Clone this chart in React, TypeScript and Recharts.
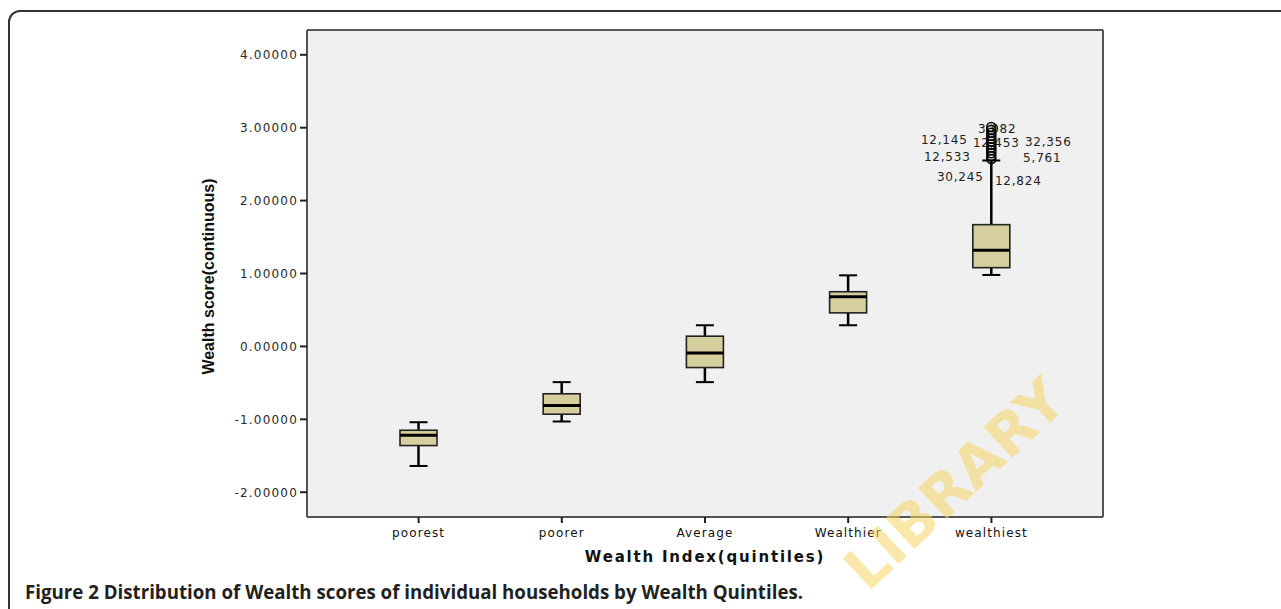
import { ComposedChart, Bar, XAxis, YAxis, CartesianGrid } from 'recharts';

const categories = ['poorest', 'poorer', 'Average', 'Wealthier', 'wealthiest'];
const whiskerLow = [-1.64, -1.03, -0.49, 0.29, 0.98];
const quartile1 = [-1.36, -0.93, -0.29, 0.46, 1.08];
const medians = [-1.22, -0.81, -0.09, 0.68, 1.32];
const quartile3 = [-1.15, -0.65, 0.14, 0.75, 1.67];
const whiskerHigh = [-1.04, -0.49, 0.29, 0.975, 2.55];

// outliers of the wealthiest group
const outlierValues = [3.01, 2.97, 2.93, 2.89, 2.85, 2.81, 2.77, 2.73, 2.69, 2.65, 2.61, 2.57];
const outlierLabels = ['3,082', '12,145', '12,453', '32,356', '12,533', '5,761', '30,245', '12,824'];
const outlierLabelValues = [3.01, 2.85, 2.81, 2.81, 2.61, 2.61, 2.57, 2.57];
// where each case number sits next to its point (px)
const labelOffsets = [
  [6, 2], [-47, 1.5], [5, 1.5], [57, 0], [-44, 1], [51, 2], [-31, 18], [27, 22],
];

const yTicks = [-2, -1, 0, 1, 2, 3, 4];

const data = categories.map((name, i) => ({
  name,
  low: whiskerLow[i],
  q1: quartile1[i],
  median: medians[i],
  q3: quartile3[i],
  high: whiskerHigh[i],
  outliers: i === categories.length - 1 ? outlierValues : [],
  labels: i === categories.length - 1 ? outlierLabels : [],
  labelValues: i === categories.length - 1 ? outlierLabelValues : [],
}));

const tickFont = 'DejaVu Sans, sans-serif';

const BoxShape = (props: any) => {
  const { x, y, width, height, payload } = props;
  const top = Math.min(y, y + height);
  const h = Math.abs(height);
  const span = payload.high - payload.low;
  const py = (v: number) => top + ((payload.high - v) / span) * h;
  const cx = x + width / 2;
  const cap = 9;
  return (
    <g>
      <line x1={cx} x2={cx} y1={py(payload.high)} y2={py(payload.low)} stroke="#000" strokeWidth={2.5} />
      <line x1={cx - cap} x2={cx + cap} y1={py(payload.high)} y2={py(payload.high)} stroke="#000" strokeWidth={2} />
      <line x1={cx - cap} x2={cx + cap} y1={py(payload.low)} y2={py(payload.low)} stroke="#000" strokeWidth={2} />
      <rect
        x={x}
        y={py(payload.q3)}
        width={width}
        height={py(payload.q1) - py(payload.q3)}
        fill="#d4cf9c"
        stroke="#222"
        strokeWidth={1.6}
      />
      <line x1={x} x2={x + width} y1={py(payload.median)} y2={py(payload.median)} stroke="#000" strokeWidth={3} />
      {payload.labels.map((t: string, i: number) => (
        <text
          key={t}
          x={cx + labelOffsets[i][0]}
          y={py(payload.labelValues[i]) + labelOffsets[i][1]}
          dy="0.36em"
          textAnchor="middle"
          fontFamily={tickFont}
          fontSize={12}
          letterSpacing={0.8}
          fill="#222"
        >
          {t}
        </text>
      ))}
      {payload.outliers.map((v: number, i: number) => (
        <circle key={i} cx={cx} cy={py(v)} r={4.5} fill="none" stroke="#000" strokeWidth={1.6} />
      ))}
    </g>
  );
};

const YTick = (props: any) => {
  const { x, y, payload } = props;
  return (
    <text x={x} y={y} dy="0.36em" textAnchor="end" fontFamily={tickFont} fontSize={12} letterSpacing={1.2} fill="#2a2a2a">
      {Number(payload.value).toFixed(5)}
    </text>
  );
};

const XTick = (props: any) => {
  const { x, y, payload } = props;
  return (
    <text x={x} y={y} dy="0.8em" textAnchor="middle" fontFamily={tickFont} fontSize={12} letterSpacing={1.1} fill="#111">
      {payload.value}
    </text>
  );
};

const App = () => {
  return (
    <div style={{ position: 'absolute', left: 0, top: 0, width: 1281, height: 609, overflow: 'hidden', background: '#fff' }}>
      <div
        style={{
          position: 'absolute',
          left: 8,
          top: 10,
          width: 1400,
          height: 700,
          border: '2px solid #333',
          borderRadius: 12,
        }}
      />
      <div style={{ position: 'absolute', left: 0, top: 0 }}>
        <ComposedChart width={1281} height={609} data={data} margin={{ top: 30, right: 178, bottom: 42, left: 197 }}>
          {/* plot background and its frame */}
          <CartesianGrid
            fill="#f0f0f0"
            stroke="#555"
            strokeWidth={2}
            horizontalCoordinatesGenerator={({ offset }: any) => [offset.top, offset.top + offset.height]}
            verticalCoordinatesGenerator={({ offset }: any) => [offset.left, offset.left + offset.width]}
          />
          <XAxis
            dataKey="name"
            padding={{ left: 40, right: 40 }}
            height={50}
            tick={<XTick />}
            tickSize={6}
            tickMargin={4}
            tickLine={{ stroke: '#222', strokeWidth: 2 }}
            axisLine={{ stroke: '#555', strokeWidth: 2 }}
            interval={0}
            label={{
              content: ({ viewBox }: any) => (
                <text
                  x={viewBox.x + viewBox.width / 2}
                  y={viewBox.y + 45}
                  textAnchor="middle"
                  fontFamily="DejaVu Sans, sans-serif"
                  fontWeight="bold"
                  fontSize={15}
                  letterSpacing={1.8}
                  fill="#111"
                >
                  Wealth Index(quintiles)
                </text>
              ),
            }}
          />
          <YAxis
            domain={[-2.34, 4.34]}
            ticks={yTicks}
            width={110}
            tick={<YTick />}
            tickSize={7}
            tickMargin={2}
            tickLine={{ stroke: '#222', strokeWidth: 2 }}
            axisLine={{ stroke: '#555', strokeWidth: 2 }}
            label={{
              content: ({ viewBox }: any) => {
                const lx = viewBox.x + 11;
                const ly = viewBox.y + viewBox.height / 2 + 3;
                return (
                  <text
                    x={lx}
                    y={ly}
                    transform={`rotate(-90, ${lx}, ${ly})`}
                    dy="0.36em"
                    textAnchor="middle"
                    fontFamily="Liberation Sans, Arial, sans-serif"
                    fontWeight="bold"
                    fontSize={16}
                    fill="#111"
                  >
                    Wealth score(continuous)
                  </text>
                );
              },
            }}
          />
          <Bar
            dataKey={(d: any) => [d.low, d.high]}
            barSize={37}
            shape={<BoxShape />}
            isAnimationActive={false}
          />
        </ComposedChart>
      </div>
      <div
        style={{
          position: 'absolute',
          left: 25,
          top: 579,
          fontFamily: 'Open Sans, sans-serif',
          fontWeight: 700,
          fontSize: 18.7,
          color: '#231f20',
          whiteSpace: 'nowrap',
        }}
      >
        Figure 2 Distribution of Wealth scores of individual households by Wealth Quintiles.
      </div>
      <div
        style={{
          position: 'absolute',
          left: 955,
          top: 484,
          transform: 'translate(-50%, -50%) rotate(-43deg)',
          fontFamily: 'DejaVu Sans, sans-serif',
          fontWeight: 700,
          fontSize: 58,
          lineHeight: 1,
          color: 'rgba(245, 214, 100, 0.55)',
          whiteSpace: 'nowrap',
          pointerEvents: 'none',
        }}
      >
        LIBRARY
      </div>
    </div>
  );
};

export default App;
